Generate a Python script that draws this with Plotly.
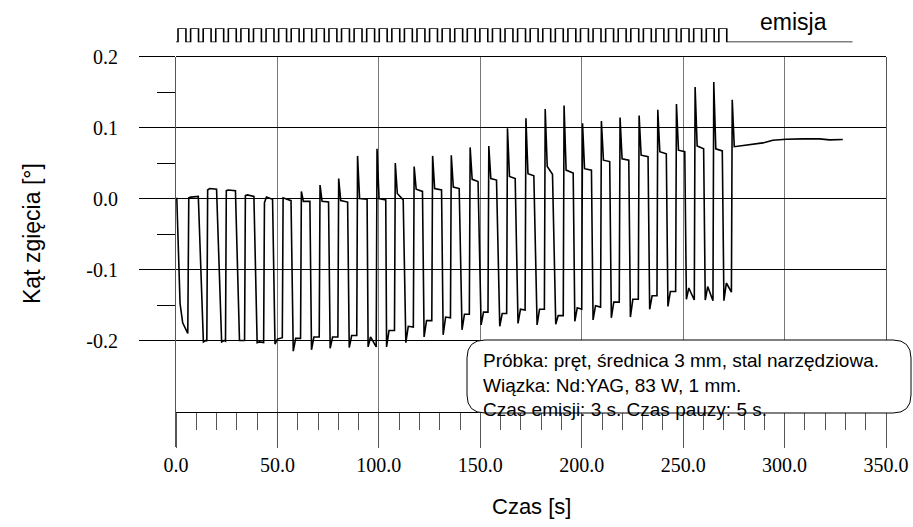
import plotly.graph_objects as go

# ---------------- data ----------------
# initial emission (t = 0 .. first recovery)
start_t = [0.0, 0.4, 2.0, 3.3, 5.8]
start_y = [0.0, 0.0, -0.148, -0.175, -0.190]

# per cycle: time of the recovery edge (start of pause), spike peak, level after spike
rise_t = [6.1, 15.4, 24.6, 34.0, 43.4, 52.6, 61.6, 70.8, 80.0, 89.3,
          98.9, 107.9, 117.2, 126.3, 135.5, 144.8, 154.0, 163.2, 172.3, 181.8,
          191.1, 200.2, 209.5, 218.7, 228.1, 237.3, 246.5, 255.7, 264.9, 274.0]
peak = [0.001, 0.012, 0.011, 0.004, -0.006, 0.001, 0.010, 0.019, 0.028, 0.060,
        0.070, 0.050, 0.045, 0.060, 0.061, 0.072, 0.074, 0.099, 0.113, 0.126,
        0.131, 0.106, 0.109, 0.114, 0.117, 0.125, 0.133, 0.157, 0.164, 0.139]
plat_a = [0.002, 0.014, 0.012, 0.005, 0.002, 0.000, -0.004, -0.004, -0.003, 0.000,
          0.000, 0.007, 0.013, 0.014, 0.016, 0.027, 0.028, 0.031, 0.035, 0.045,
          0.040, 0.042, 0.054, 0.056, 0.061, 0.066, 0.068, 0.074, 0.070, 0.073]

# per cycle: start of the next emission (fall), level just before it, bottom values
fall_t = [11.0, 20.0, 29.3, 38.4, 47.6, 56.7, 66.0, 75.2, 84.6, 94.2,
          103.4, 112.0, 121.5, 130.9, 139.6, 148.9, 158.0, 167.2, 176.4, 185.6,
          195.8, 204.8, 213.8, 223.2, 232.7, 241.7, 250.8, 260.1, 269.3]
plat_b = [0.003, 0.013, 0.011, 0.003, -0.001, -0.003, -0.004, -0.005, -0.005, -0.001,
          -0.002, -0.002, 0.010, 0.012, 0.014, 0.024, 0.026, 0.028, 0.032, 0.034,
          0.036, 0.040, 0.052, 0.054, 0.059, 0.063, 0.066, 0.070, 0.067]
bot_t = [13.5, 22.5, 31.3, 40.0, 48.8, 57.8, 66.8, 76.0, 85.4, 94.7,
         103.8, 113.3, 122.3, 131.7, 141.0, 150.4, 159.6, 168.6, 178.0, 187.2,
         196.6, 205.6, 214.6, 224.0, 233.5, 242.5, 251.6, 260.9, 270.1]
bot_min = [-0.202, -0.202, -0.200, -0.203, -0.205, -0.215, -0.213, -0.211, -0.210, -0.209,
           -0.209, -0.203, -0.195, -0.192, -0.185, -0.178, -0.180, -0.176, -0.178, -0.177,
           -0.173, -0.171, -0.168, -0.167, -0.156, -0.152, -0.142, -0.143, -0.144]
bot_hump = [-0.200, -0.200, -0.200, -0.202, -0.198, -0.197, -0.195, -0.195, -0.193, -0.195,
            -0.186, -0.180, -0.172, -0.167, -0.163, -0.160, -0.162, -0.156, -0.156, -0.165,
            -0.154, -0.151, -0.146, -0.142, -0.137, -0.131, -0.126, -0.124, -0.119]
bot_end = [-0.201, -0.201, -0.200, -0.203, -0.196, -0.197, -0.195, -0.195, -0.193, -0.209,
           -0.186, -0.181, -0.172, -0.168, -0.163, -0.160, -0.162, -0.157, -0.156, -0.165,
           -0.156, -0.153, -0.146, -0.142, -0.137, -0.131, -0.143, -0.144, -0.132]

# after the last emission
tail_t = [277.8, 284.4, 289.3, 294.2, 300.8, 309.0, 317.2, 322.2, 328.7]
tail_y = [0.074, 0.0765, 0.0783, 0.0821, 0.0835, 0.084, 0.084, 0.0826, 0.083]

# schematic emission diagram (top)
wave_rise = [1.0, 7.2, 13.4, 19.6, 25.8, 32.0, 38.2, 44.4, 50.6, 56.8,
             63.0, 69.2, 75.4, 81.6, 87.8, 94.0, 100.2, 106.4, 112.6, 118.8,
             125.0, 131.2, 137.4, 143.6, 149.8, 156.0, 162.2, 168.4, 174.6, 180.8,
             187.0, 193.2, 199.4, 205.6, 211.8, 218.0, 224.2, 230.4, 236.6, 242.8,
             249.0, 255.2, 261.4, 267.6]
wave_high = 3.9
wave_end = 333.5

x_ticks = [0, 50, 100, 150, 200, 250, 300, 350]
x_ticklabels = ["0.0", "50.0", "100.0", "150.0", "200.0", "250.0", "300.0", "350.0"]
y_ticks = [0.2, 0.1, 0.0, -0.1, -0.2]
y_ticklabels = ["0.2", "0.1", "0.0", "-0.1", "-0.2"]
y_minor = [0.15, 0.05, -0.05, -0.15]

# ---------------- build polylines ----------------
tt = list(start_t)
yy = list(start_y)
n = len(rise_t)
for i in range(n):
    r = rise_t[i]
    tt += [r + 0.2, r + 1.2]
    yy += [peak[i], plat_a[i]]
    if i < n - 1:
        tt += [fall_t[i], bot_t[i], bot_t[i] + 1.2, rise_t[i + 1] - 0.2]
        yy += [plat_b[i], bot_min[i], bot_hump[i], bot_end[i]]
tt += tail_t
yy += tail_y

wx = [0.0]
wy = [0]
for r in wave_rise:
    wx += [r, r, r + wave_high, r + wave_high]
    wy += [0, 1, 1, 0]
wx.append(wave_end)
wy.append(0)

# ---------------- figure ----------------
W, H = 913, 527
ML, MR, MT, MB = 176, 27, 0, 80
PW, PH = W - ML - MR, H - MT - MB
YMIN, YMAX = -0.35, 0.2
DOM_TOP = (H - MB - 56.5) / PH


def px(X):
    return (X - ML) / PW


def py(Y):
    return (H - MB - Y) / PH


SERIF = "Liberation Serif, Times New Roman, DejaVu Serif, serif"
SANS = "Liberation Sans, Arial, sans-serif"

fig = go.Figure()
fig.add_trace(go.Scatter(x=tt, y=yy, mode="lines",
                         line=dict(color="black", width=1.6),
                         hoverinfo="skip", showlegend=False))
fig.add_trace(go.Scatter(x=wx, y=wy, mode="lines", xaxis="x2", yaxis="y2",
                         line=dict(color="black", width=1.6),
                         cliponaxis=False, hoverinfo="skip", showlegend=False))

xpos = DOM_TOP * (-0.3 - YMIN) / (YMAX - YMIN)

fig.update_layout(
    template="none",
    width=W, height=H, autosize=False,
    margin=dict(l=ML, r=MR, t=MT, b=MB, pad=0, autoexpand=False),
    paper_bgcolor="white", plot_bgcolor="white",
    font=dict(family=SANS, color="black"),
    xaxis=dict(range=[0, 350], domain=[0, 1], anchor="free", position=xpos,
               side="bottom", automargin=False,
               showline=True, linecolor="black", linewidth=1,
               ticks="outside", ticklen=35, tickwidth=1, tickcolor="#555555",
               tickvals=x_ticks, ticktext=x_ticklabels,
               tickfont=dict(family=SERIF, size=20, color="black"),
               showgrid=True, gridcolor="#777777", gridwidth=1, zeroline=False,
               minor=dict(dtick=10, tick0=0, ticks="outside", ticklen=17,
                          tickcolor="#555555", tickwidth=1, showgrid=False)),
    yaxis=dict(range=[YMIN, YMAX], domain=[0, DOM_TOP], anchor="x", automargin=False,
               showline=True, linecolor="#555555", linewidth=1, mirror=True,
               ticks="outside", ticklen=36, tickwidth=1, tickcolor="black",
               tickvals=y_ticks, ticktext=y_ticklabels, ticklabelstandoff=17,
               tickfont=dict(family=SERIF, size=20, color="black"),
               showgrid=True, gridcolor="black", gridwidth=1, zeroline=False,
               minor=dict(tickvals=y_minor, ticks="outside", ticklen=18,
                          tickcolor="black", tickwidth=1, showgrid=False)),
    xaxis2=dict(matches="x", anchor="y2", domain=[0, 1], visible=False, automargin=False),
    yaxis2=dict(range=[0, 1], domain=[py(42.3), py(28.3)], anchor="x2",
                visible=False, automargin=False),
)

# top frame line of the plot area
fig.add_shape(type="line", xref="x domain", yref="y domain", x0=0, x1=1, y0=1, y1=1,
              line=dict(color="black", width=1), layer="above")

# rounded info box
L, R, T, B = px(467), px(911), py(340), py(413)
rx, ry = 18 / PW, 18 / PH
path = (f"M {L+rx},{T} L {R-rx},{T} Q {R},{T} {R},{T-ry} L {R},{B+ry} "
        f"Q {R},{B} {R-rx},{B} L {L+rx},{B} Q {L},{B} {L},{B+ry} "
        f"L {L},{T-ry} Q {L},{T} {L+rx},{T} Z")
fig.add_shape(type="path", path=path, xref="paper", yref="paper",
              line=dict(color="black", width=1), fillcolor="white", layer="above")

fig.add_annotation(x=px(481), y=py(385), xref="paper", yref="paper",
                   xanchor="left", yanchor="middle", align="left", showarrow=False,
                   text="Próbka: pręt, średnica 3 mm, stal narzędziowa.<br>"
                        "Wiązka: Nd:YAG, 83 W, 1 mm.<br>"
                        "Czas emisji: 3 s. Czas pauzy: 5 s.",
                   font=dict(family=SANS, size=19, color="black"))
fig.add_annotation(x=px(793), y=py(22), xref="paper", yref="paper",
                   xanchor="center", yanchor="middle", showarrow=False,
                   text="emisja", font=dict(family=SANS, size=23, color="black"))
fig.add_annotation(x=px(32), y=py(234), xref="paper", yref="paper",
                   xanchor="center", yanchor="middle", showarrow=False, textangle=-90,
                   text="Kąt zgięcia [°]", font=dict(family=SANS, size=23, color="black"))
fig.add_annotation(x=px(531), y=py(506), xref="paper", yref="paper",
                   xanchor="center", yanchor="middle", showarrow=False,
                   text="Czas [s]", font=dict(family=SANS, size=22, color="black"))

fig.write_html("out.html")
